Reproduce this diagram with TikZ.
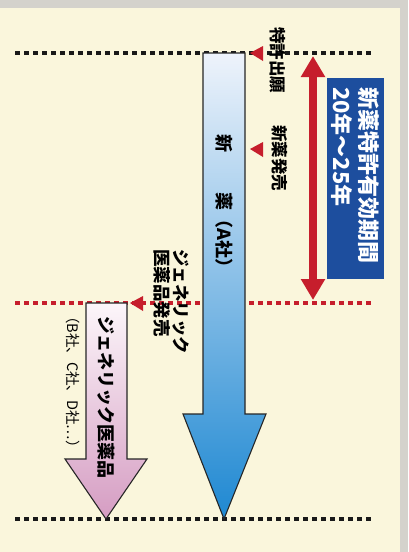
\documentclass[tikz,border=0pt]{standalone}
\usepackage{fontspec}
\newfontfamily\jp{Noto Sans CJK JP}
\usetikzlibrary{arrows.meta}
\definecolor{cream}{HTML}{FAF6DC}
\definecolor{frame}{HTML}{D4D2CC}
\definecolor{dred}{HTML}{C61E2C}
\definecolor{boxblue}{HTML}{1D4E9E}
\definecolor{bluetop}{HTML}{EEF3FB}
\definecolor{bluebot}{HTML}{1E88D2}
\definecolor{pinktop}{HTML}{FCF6FA}
\definecolor{pinkbot}{HTML}{D59CC2}
\begin{document}
\begin{tikzpicture}[x=1pt,y=-1pt,
  dotline/.style={dash pattern=on 5pt off 4pt, line width=3.5pt},
  vtext/.style={rotate=-90, inner sep=0pt, font=\jp\bfseries\fontsize{16.5}{19}\selectfont},
  marker/.style={fill=dred},
  bigarrow/.style={draw=black!85, line width=1.1pt, line join=miter}]
\useasboundingbox (0,0) rectangle (408,552);
\fill[frame] (0,0) rectangle (408,552);
\fill[cream] (0,8) rectangle (400,552);
% dotted lines
\coordinate (l1a) at (15,53);  \coordinate (l1b) at (373,53);
\coordinate (l2a) at (15,303); \coordinate (l2b) at (373,303);
\coordinate (l3a) at (15,519); \coordinate (l3b) at (373,519);
\draw[dotline, black!90] (l1a) -- (l1b);
\draw[dotline, dred] (l2a) -- (l2b);
\draw[dotline, black!90] (l3a) -- (l3b);
% blue arrow (new drug)
\shade[bigarrow, top color=bluetop, bottom color=bluebot]
  (203,53) -- (245,53) -- (245,414) -- (266,414) -- (224,519) -- (183,414) -- (203,414) -- cycle;
% pink arrow (generic)
\shade[bigarrow, top color=pinktop, bottom color=pinkbot]
  (86,303) -- (127,303) -- (127,459) -- (147,459) -- (106,519) -- (65,459) -- (86,459) -- cycle;
% markers
\fill[marker] (250,53) -- (263,46) -- (263,61) -- cycle;
\fill[marker] (250,149) -- (263,142) -- (263,157) -- cycle;
\fill[marker] (130,303) -- (143,296) -- (143,311) -- cycle;
% double arrow
\coordinate (da) at (313,56);
\coordinate (db) at (313,300);
\draw[dred, line width=8pt, {Triangle[width=23pt,length=21pt]}-{Triangle[width=23pt,length=21pt]}] (da) -- (db);
% blue box
\node[rotate=-90, fill=boxblue, text=white, minimum width=201pt, minimum height=57pt,
  inner xsep=9pt, inner ysep=0pt, text width=183pt, align=left,
  font=\jp\bfseries\fontsize{22}{27}\selectfont] (box) at (355.5,178.5)
  {新薬特許有効期間\\20年〜25年};
% labels
\node[vtext, anchor=west] (tok) at (278,27) {特許出願};
\node[vtext, anchor=west] (hat) at (280,125) {新薬発売};
\node[vtext, anchor=west, align=left, font=\jp\bfseries\fontsize{17.5}{19}\selectfont] (gen) at (171,249) {ジェネリック\\医薬品発売};
\node[vtext, anchor=west, font=\jp\bfseries\fontsize{18}{20}\selectfont] (newd) at (224,134) {新\hspace{40pt}薬（A社）};
\node[vtext, anchor=west, font=\jp\bfseries\fontsize{18}{20}\selectfont] (gend) at (106,316) {ジェネリック医薬品};
\node[vtext, anchor=west, font=\jp\fontsize{14.5}{16}\selectfont] (comp) at (73,309) {（B社、C社、D社…）};
\end{tikzpicture}
\end{document}
